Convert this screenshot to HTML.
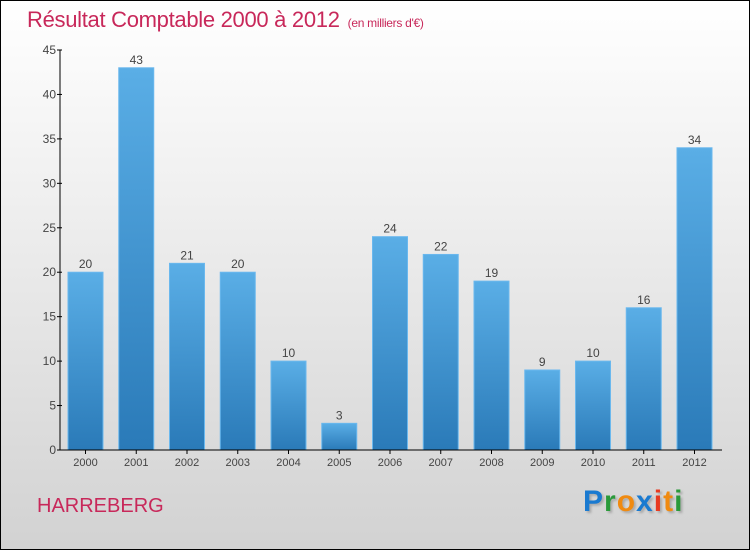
<!DOCTYPE html>
<html><head><meta charset="utf-8"><style>
html,body{margin:0;padding:0}
body{width:750px;height:550px;overflow:hidden;font-family:"Liberation Sans",sans-serif}
#wrap{position:relative;width:748px;height:548px;border:1px solid #000;background:linear-gradient(#ffffff,#f2f2f2 30%,#d2d2d2)}
#title{position:absolute;left:26px;top:6px;font-size:22px;color:#c8285a;white-space:nowrap;letter-spacing:-0.3px}
#title small{font-size:12px;margin-left:8px}
#commune{position:absolute;left:36px;top:494px;font-size:20px;color:#c8285a}
#logo{position:absolute;left:582px;top:484px;font-size:30px;font-weight:bold;letter-spacing:1px;text-shadow:2px 2px 2px #aaa}
</style></head><body>
<div id="wrap">
<div id="title">Résultat Comptable 2000 à 2012<small>(en milliers d'€)</small></div>
<svg id="chart" width="748" height="548" style="position:absolute;left:0;top:0">
<defs><linearGradient id="bg" x1="0" y1="0" x2="0" y2="1"><stop offset="0" stop-color="#5aaee6"/><stop offset="1" stop-color="#2a7ab8"/></linearGradient></defs>
</svg>
<div id="commune">HARREBERG</div>
<div id="logo"><span style="color:#1a7ad0">P</span><span style="color:#2a9a3a">r</span><span style="color:#f08a10">o</span><span style="color:#1a7ad0">x</span><span style="color:#e83a20">i</span><span style="color:#f08a10">t</span><span style="color:#2a9a3a">i</span></div>
</div>
<script>
const categories=["2000","2001","2002","2003","2004","2005","2006","2007","2008","2009","2010","2011","2012"];
const values=[20,43,21,20,10,3,24,22,19,9,10,16,34];
const yTicks=[0,5,10,15,20,25,30,35,40,45];
const svg=document.getElementById('chart');
const NS='http://www.w3.org/2000/svg';
const x0=59,y0=449,yTop=49,yMax=45,step=50.75,first=84.5,bw=35;
const y=v=>y0-(v/yMax)*(y0-yTop);
const x=i=>first+i*step;
function mk(t,a){const e=document.createElementNS(NS,t);for(const k in a)e.setAttribute(k,a[k]);svg.appendChild(e);return e;}
categories.forEach((c,i)=>{
 const r=mk('rect',{x:x(i)-bw/2,y:y(values[i]),width:bw,height:y0-y(values[i]),fill:'url(#bg)',stroke:'#6ab8ee','stroke-width':1});
 
 
 const t=mk('text',{x:x(i),y:y(values[i])-4,'text-anchor':'middle','font-size':12,fill:'#444'});
 t.textContent=values[i];
 
 
 const l=mk('text',{x:x(i),y:y0+16,'text-anchor':'middle','font-size':11,fill:'#444'});
 l.textContent=c;
 
 
 mk('line',{x1:x(i),x2:x(i),y1:y0,y2:y0+4,stroke:'#000'});
});
const ya=mk('line',{x1:x0,x2:x0,y1:yTop,y2:y0,stroke:'#000'});


const xa=mk('line',{x1:x0,x2:721,y1:y0,y2:y0,stroke:'#000'});


yTicks.forEach(v=>{
 mk('line',{x1:x0-3,x2:x0+2,y1:y(v),y2:y(v),stroke:'#000'});
 const t=mk('text',{x:x0-4,y:y(v)+4,'text-anchor':'end','font-size':12,fill:'#444'});
 t.textContent=v;
 
 
});
</script>
</body></html>
